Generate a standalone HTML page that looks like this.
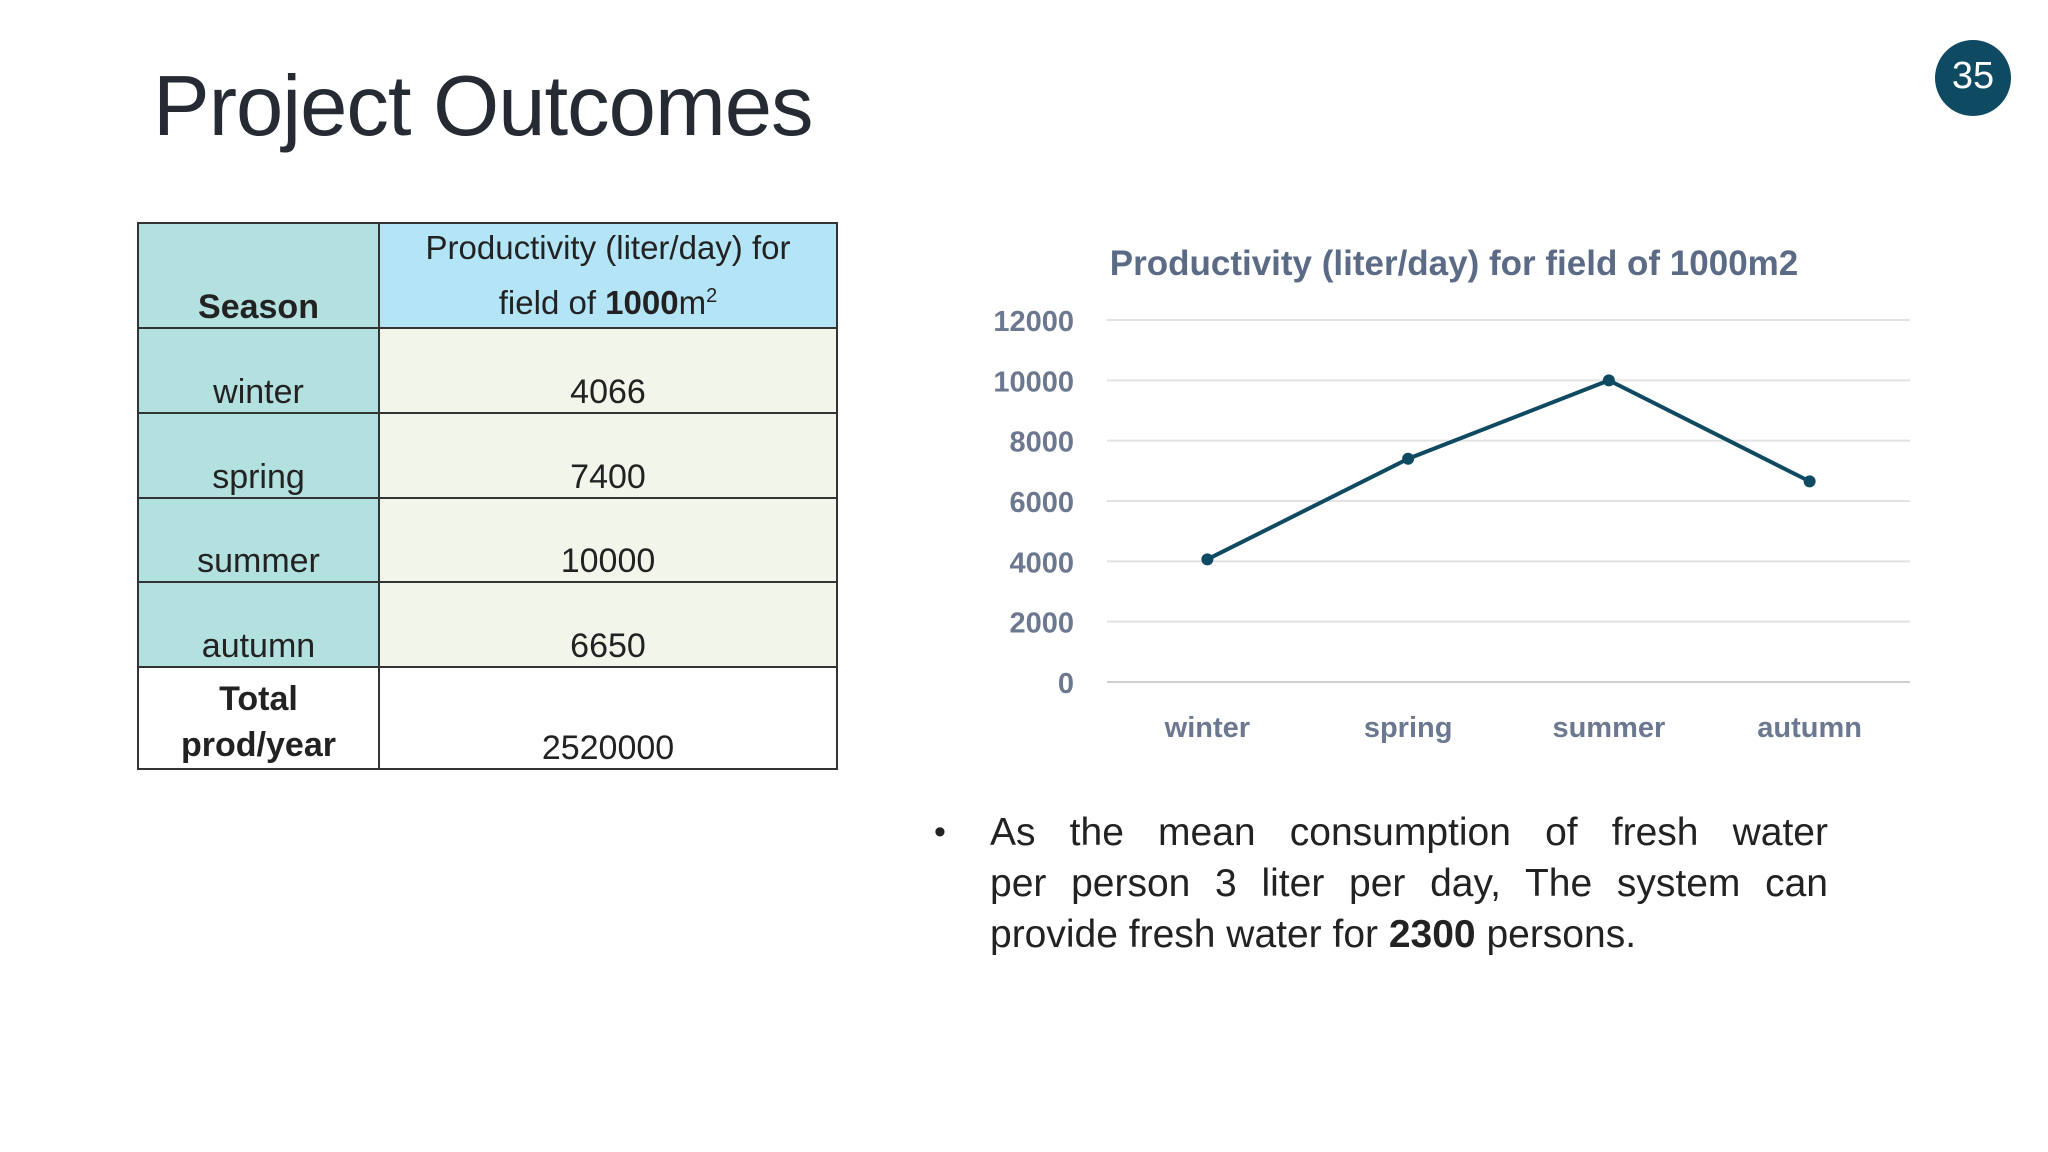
<!DOCTYPE html>
<html><head><meta charset="utf-8"><style>
body{margin:0;width:2048px;height:1152px;background:#fff;position:relative;overflow:hidden;font-family:"Liberation Sans",sans-serif;color:#222}
.title{position:absolute;left:153px;top:58px;font-size:85px;color:#262a33;letter-spacing:-1px}
.badge{position:absolute;left:1935px;top:40px;width:76px;height:76px;border-radius:50%;background:#0e4a62;color:#fff;font-size:38px;text-align:center;line-height:72px}
table{position:absolute;left:137px;top:222px;border-collapse:collapse;font-size:34px}
td{border:2px solid #333;padding:0;text-align:center;vertical-align:bottom}
td.l{background:#b2e1df;width:239px}
td.r{background:#f2f5ea;width:456px}
.bullet{position:absolute;left:990px;top:807px;width:838px;font-size:39px;line-height:51px;color:#222}
.bullet div{text-align:justify;text-align-last:justify;white-space:nowrap}
.bullet div.last{text-align-last:left}
.dot{position:absolute;left:934px;top:807px;font-size:34px;line-height:51px}
</style></head><body>
<div class="title">Project Outcomes</div>
<div class="badge">35</div>
<table>
<tr style="height:103px"><td class="l"><b>Season</b></td><td class="r" style="background:#b4e5f6;font-size:33px;line-height:48px">Productivity (liter/day) for<br>field of <b>1000</b>m<sup style="font-size:20px">2</sup></td></tr>
<tr style="height:85px"><td class="l">winter</td><td class="r">4066</td></tr>
<tr style="height:85px"><td class="l">spring</td><td class="r">7400</td></tr>
<tr style="height:84px"><td class="l">summer</td><td class="r">10000</td></tr>
<tr style="height:85px"><td class="l">autumn</td><td class="r">6650</td></tr>
<tr style="height:102px"><td style="background:#fff;line-height:46px"><b>Total prod/year</b></td><td style="background:#fff">2520000</td></tr>
</table>
<svg id="chart" width="2048" height="1152" style="position:absolute;left:0;top:0"></svg>
<div class="dot">•</div>
<div class="bullet"><div>As the mean consumption of fresh water</div><div>per person 3 liter per day, The system can</div><div class="last">provide fresh water for <b>2300</b> persons.</div></div>
<script>
const categories=["winter","spring","summer","autumn"];
const values=[4066,7400,10000,6650];
const yTicks=[0,2000,4000,6000,8000,10000,12000];
const ns="http://www.w3.org/2000/svg";
const svg=document.getElementById('chart');
const X0=1107,X1=1910,Y0=682,Y1=320,YMAX=12000;
const bw=(X1-X0)/categories.length;
const xs=i=>X0+bw*(i+0.5);
const ys=v=>Y0-(v/YMAX)*(Y0-Y1);
function mk(t,a,txt){const e=document.createElementNS(ns,t);for(const k in a)e.setAttribute(k,a[k]);if(txt!==undefined)e.textContent=txt;svg.appendChild(e);return e;}
const ttl=mk('text',{x:1454,y:275,'text-anchor':'middle','font-size':35,'font-weight':'bold',fill:'#5b6b85','font-family':'Liberation Sans'},'Productivity (liter/day) for field of 1000m2');


yTicks.forEach(t=>{
 const g=mk('line',{x1:X0,x2:X1,y1:ys(t),y2:ys(t),stroke:t===0?'#d0d0d0':'#e2e2e2','stroke-width':2});
 
 
 const l=mk('text',{x:1074,y:ys(t)+11,'text-anchor':'end','font-size':29,'font-weight':'bold',fill:'#6b7890','font-family':'Liberation Sans'},String(t));
 
 
});
categories.forEach((c,i)=>{
 const l=mk('text',{x:xs(i),y:737,'text-anchor':'middle','font-size':29,'font-weight':'bold',fill:'#6b7890','font-family':'Liberation Sans'},c);
 
 
});
const pl=mk('polyline',{points:values.map((v,i)=>xs(i)+','+ys(v)).join(' '),fill:'none',stroke:'#0f4a62','stroke-width':4});


values.forEach((v,i)=>{
 const p=mk('circle',{cx:xs(i),cy:ys(v),r:6,fill:'#0f4a62'});
 
 
});
</script>
</body></html>
